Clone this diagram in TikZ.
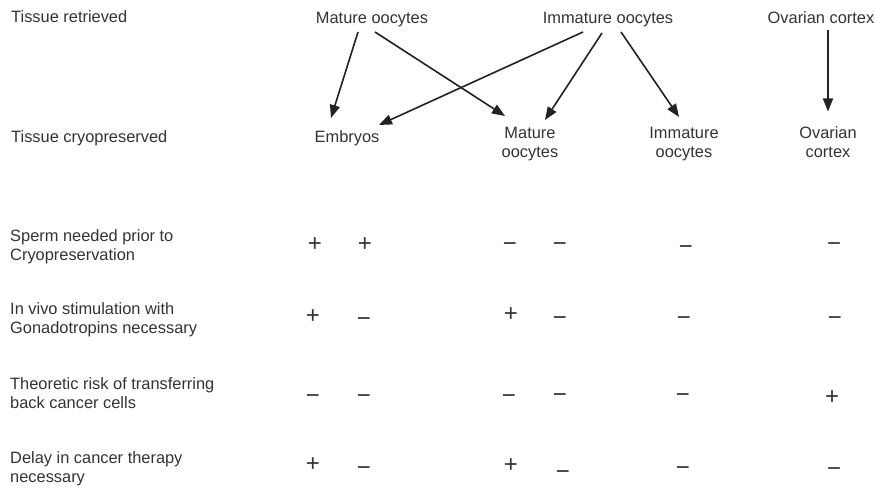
\documentclass[tikz,border=0pt]{standalone}
\usepackage{fontspec}
\setmainfont{Liberation Sans}
\usetikzlibrary{arrows.meta}
\definecolor{txt}{HTML}{333333}
\definecolor{arrc}{HTML}{222222}
\begin{document}
\begin{tikzpicture}[x=1pt,y=1pt,
  lbl/.style={inner sep=0pt, text=txt, font=\fontsize{16.4}{19}\selectfont},
  sym/.style={inner sep=0pt, anchor=base, text=txt, font=\fontsize{24}{24}\selectfont},
  conn/.style={draw=arrc, line width=1.6pt, -{Triangle[length=13pt,width=10pt]}}]
\useasboundingbox (0,0) rectangle (876,-489);
\fill[white] (0,0) rectangle (876,-489);

% header row
\node[lbl, anchor=base west] (tr) at (11,-23) {Tissue retrieved};
\node[lbl, anchor=base] (mo) at (372,-24) {Mature oocytes};
\node[lbl, anchor=base] (io) at (608,-24) {Immature oocytes};
\node[lbl, anchor=base] (oc) at (821,-24) {Ovarian cortex};

% cryopreserved row
\node[lbl, anchor=base west] (tc) at (11,-143) {Tissue cryopreserved};
\node[lbl, anchor=base] (emb) at (347,-143) {Embryos};
\node[lbl, align=center] (mo2) at (530,-144) {Mature\\oocytes};
\node[lbl, align=center] (io2) at (684,-144) {Immature\\oocytes};
\node[lbl, align=center] (oc2) at (828,-142.5) {Ovarian\\cortex};

% arrows
\draw[conn] ([shift={(-14pt,-8pt)}]mo.base) -- ([shift={(-16pt,25pt)}]emb.base);
\draw[conn] ([shift={(3pt,-8pt)}]mo.base) -- ([shift={(-25pt,28pt)}]mo2.center);
\draw[conn] ([shift={(-25pt,-8pt)}]io.base) -- ([shift={(32pt,18pt)}]emb.base);
\draw[conn] ([shift={(-6pt,-9pt)}]io.base) -- ([shift={(15pt,24pt)}]mo2.center);
\draw[conn] ([shift={(13pt,-8pt)}]io.base) -- ([shift={(-5pt,27pt)}]io2.center);
\draw[conn] ([shift={(7pt,-6pt)}]oc.base) -- ([shift={(0pt,31pt)}]oc2.center);

% row labels
\node[lbl, align=left, anchor=north west] (r1) at (10,-229.4) {Sperm needed prior to\\Cryopreservation};
\node[lbl, align=left, anchor=north west] (r2) at (10,-302.4) {In vivo stimulation with\\Gonadotropins necessary};
\node[lbl, align=left, anchor=north west] (r3) at (10,-377.4) {Theoretic risk of transferring\\back cancer cells};
\node[lbl, align=left, anchor=north west] (r4) at (10,-451.4) {Delay in cancer therapy\\necessary};

% row 1
\node[sym] (s11) at (315,-251.3) {+};
\node[sym] (s12) at (365,-251.3) {+};
\node[sym] (s13) at (510,-251.3) {−};
\node[sym] (s14) at (560,-251.3) {−};
\node[sym] (s15) at (686,-254.3) {−};
\node[sym] (s16) at (834,-251.3) {−};
% row 2
\node[sym] (s21) at (313,-323.3) {+};
\node[sym] (s22) at (364,-326.3) {−};
\node[sym] (s23) at (511,-321.3) {+};
\node[sym] (s24) at (560,-325.3) {−};
\node[sym] (s25) at (684,-325.3) {−};
\node[sym] (s26) at (835,-325.3) {−};
% row 3
\node[sym] (s31) at (313,-403.3) {−};
\node[sym] (s32) at (364,-403.3) {−};
\node[sym] (s33) at (509,-403.3) {−};
\node[sym] (s34) at (560,-402.3) {−};
\node[sym] (s35) at (683,-402.3) {−};
\node[sym] (s36) at (832,-404.3) {+};
% row 4
\node[sym] (s41) at (313,-471.3) {+};
\node[sym] (s42) at (364,-475.3) {−};
\node[sym] (s43) at (511,-472.3) {+};
\node[sym] (s44) at (563,-479.3) {−};
\node[sym] (s45) at (683,-475.3) {−};
\node[sym] (s46) at (834,-476.3) {−};
\end{tikzpicture}
\end{document}
